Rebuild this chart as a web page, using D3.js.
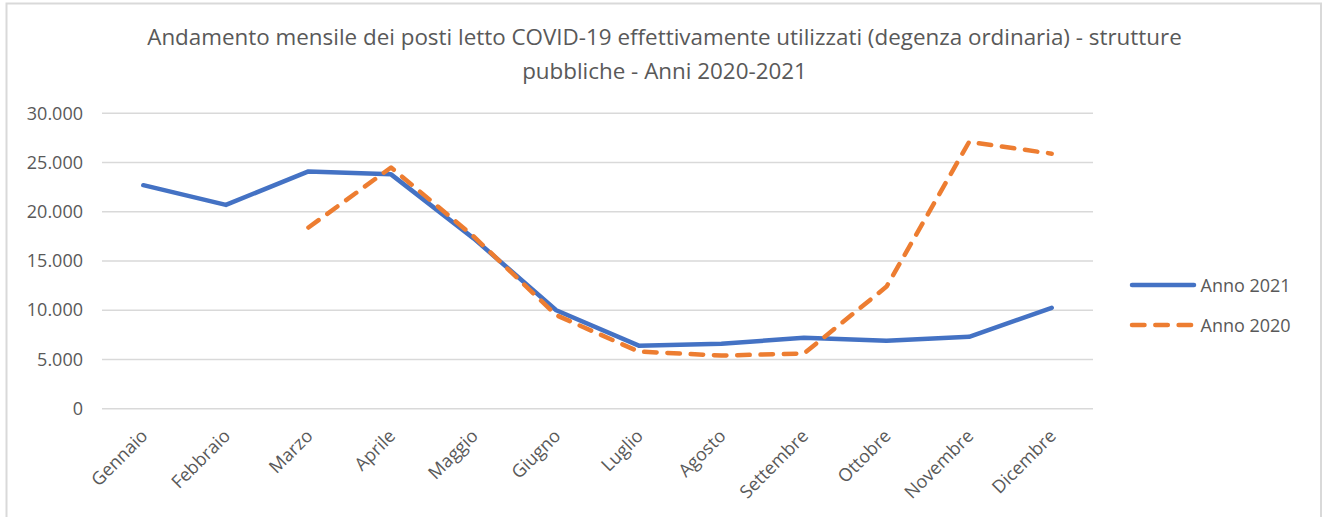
<!DOCTYPE html>
<html>
<head>
<meta charset="utf-8">
<script src="https://cdn.jsdelivr.net/npm/d3@7"></script>
<style>
  html, body { margin: 0; padding: 0; background: #ffffff; }
  svg { display: block; }
</style>
</head>
<body>
<svg id="chart" width="1330" height="517"></svg>
<script>
// Months on the category axis
const months = ["Gennaio", "Febbraio", "Marzo", "Aprile", "Maggio", "Giugno",
                "Luglio", "Agosto", "Settembre", "Ottobre", "Novembre", "Dicembre"];

// COVID-19 beds in use (ordinary ward), public facilities
const anno2021 = [22700, 20700, 24100, 23800, 17300, 10000, 6400, 6600, 7200, 6900, 7300, 10250];
const anno2020 = [null, null, 18400, 24500, 17500, 9500, 5800, 5400, 5600, 12400, 27100, 25900];

// Value axis ticks
const yTicks = [0, 5000, 10000, 15000, 20000, 25000, 30000];

const seriesNames = ["Anno 2021", "Anno 2020"];
const titleLines = [
  "Andamento mensile dei posti letto COVID-19 effettivamente utilizzati (degenza ordinaria) - strutture",
  "pubbliche - Anni 2020-2021"
];

const svg = d3.select("#chart");
const plot = { left: 102, right: 1093, top: 113.3, bottom: 408.7 };

const textColor = "#595959";
const gridColor = "#d9d9d9";
const blue = "#4472c4";
const orange = "#ed7d31";
const font = "'Open Sans', sans-serif";

// Outer chart frame
svg.append("rect")
  .attr("x", 6.5).attr("y", 3.5)
  .attr("width", 1314.5).attr("height", 530)
  .attr("fill", "#ffffff")
  .attr("stroke", gridColor)
  .attr("stroke-width", 2);

// Title
svg.append("g").selectAll("text")
  .data(titleLines)
  .join("text")
  .attr("x", 664.5)
  .attr("y", (d, i) => 44.5 + i * 34)
  .attr("text-anchor", "middle")
  .attr("font-family", font)
  .attr("font-size", 22.4)
  .attr("fill", textColor)
  .text(d => d);

// Scales
const x = d3.scaleBand().domain(months).range([plot.left, plot.right]);
const cx = m => x(m) + x.bandwidth() / 2;
const y = d3.scaleLinear().domain([0, 30000]).range([plot.bottom, plot.top]);

const it = d3.formatLocale({ decimal: ",", thousands: ".", grouping: [3], currency: ["€", ""] });
const fmt = it.format(",");

// Horizontal gridlines
svg.append("g").selectAll("line")
  .data(yTicks)
  .join("line")
  .attr("x1", plot.left).attr("x2", plot.right)
  .attr("y1", d => y(d)).attr("y2", d => y(d))
  .attr("stroke", gridColor)
  .attr("stroke-width", 1.6);

// Value axis
const yAxis = svg.append("g")
  .attr("transform", `translate(${plot.left},0)`)
  .call(d3.axisLeft(y).tickValues(yTicks).tickFormat(fmt).tickSize(0).tickPadding(19));
yAxis.select(".domain").remove();
yAxis.selectAll("text")
  .attr("font-family", font)
  .attr("font-size", 18)
  .attr("fill", textColor);

// Category axis with slanted labels
const xAxis = svg.append("g")
  .attr("transform", `translate(0,${plot.bottom})`)
  .call(d3.axisBottom(x).tickSize(0));
xAxis.select(".domain").remove();
xAxis.selectAll("text")
  .attr("font-family", font)
  .attr("font-size", 18)
  .attr("fill", textColor)
  .attr("text-anchor", "end")
  .attr("x", 0).attr("y", 0)
  .attr("dy", "0.35em")
  .attr("transform", "translate(1,24) rotate(-45)");

// Lines
const line = d3.line()
  .defined(d => d.v != null)
  .x(d => cx(d.m))
  .y(d => y(d.v));

const toPts = arr => months.map((m, i) => ({ m, v: arr[i] }));

svg.append("path")
  .datum(toPts(anno2021))
  .attr("d", line)
  .attr("fill", "none")
  .attr("stroke", blue)
  .attr("stroke-width", 4.5)
  .attr("stroke-linecap", "round")
  .attr("stroke-linejoin", "round");

svg.append("path")
  .datum(toPts(anno2020))
  .attr("d", line)
  .attr("fill", "none")
  .attr("stroke", orange)
  .attr("stroke-width", 4.5)
  .attr("stroke-linecap", "round")
  .attr("stroke-linejoin", "round")
  .attr("stroke-dasharray", "12.5,10.8");

// Legend
const legend = svg.append("g");
const legendItems = [
  { name: seriesNames[0], color: blue, dash: null, y: 285 },
  { name: seriesNames[1], color: orange, dash: "12.5,10.8", y: 325 }
];
legendItems.forEach(item => {
  legend.append("line")
    .attr("x1", 1132).attr("x2", 1194)
    .attr("y1", item.y).attr("y2", item.y)
    .attr("stroke", item.color)
    .attr("stroke-width", 4.5)
    .attr("stroke-linecap", "round")
    .attr("stroke-dasharray", item.dash);
  legend.append("text")
    .attr("x", 1200.5).attr("y", item.y + 6.7)
    .attr("font-family", font)
    .attr("font-size", 18)
    .attr("fill", textColor)
    .text(item.name);
});
</script>
</body>
</html>
